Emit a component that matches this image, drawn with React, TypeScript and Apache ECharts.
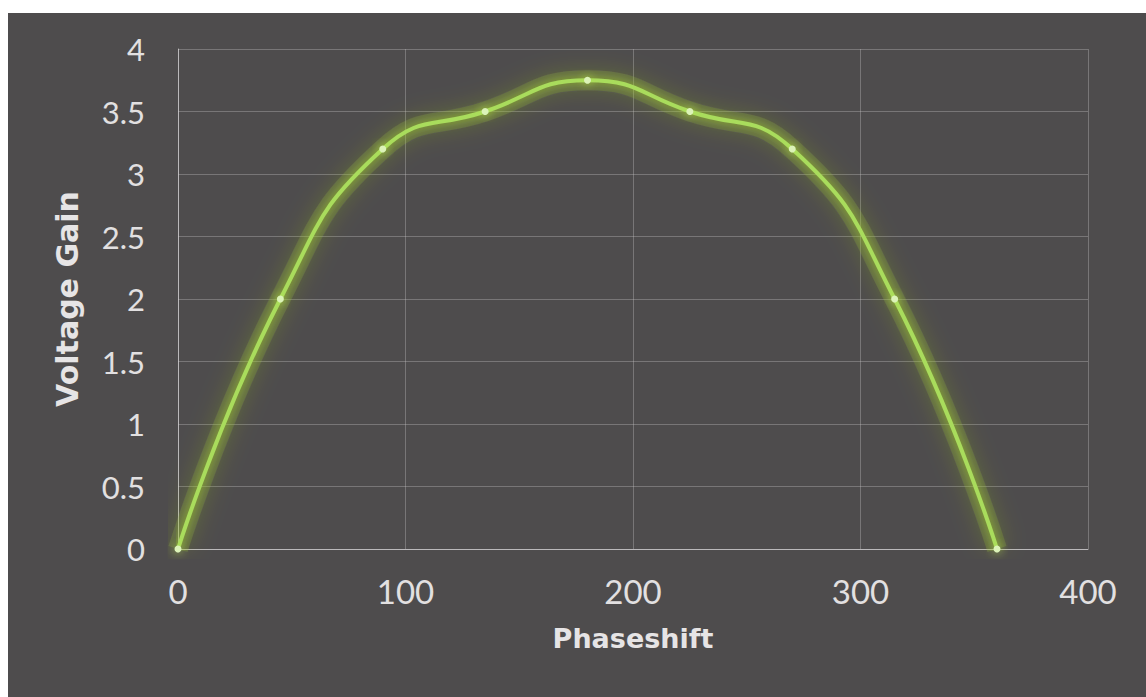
import React, { useEffect, useRef } from "react";
import * as echarts from "echarts";

const phaseShift = [0, 45, 90, 135, 180, 225, 270, 315, 360];
const voltageGain = [0, 2.0, 3.2, 3.5, 3.75, 3.5, 3.2, 2.0, 0];
const xAxisTitle = "Phaseshift";
const yAxisTitle = "Voltage Gain";

export default function App() {
  const ref = useRef<HTMLDivElement>(null);
  useEffect(() => {
    if (!ref.current) return;
    const chart = echarts.init(ref.current, null, { renderer: "svg" });
    const font = "Lato, 'Open Sans', sans-serif";
    const titleFont = "'DejaVu Sans', Lato, sans-serif";
    const points = phaseShift.map((x, i) => [x, voltageGain[i]]);
    chart.setOption({
      animation: false,
      backgroundColor: "#4e4c4d",
      grid: { left: 170, right: 58, top: 36, bottom: 148 },
      xAxis: {
        type: "value",
        min: 0,
        max: 400,
        interval: 100,
        name: xAxisTitle,
        nameLocation: "middle",
        nameGap: 76,
        nameTextStyle: { color: "#e6e4e5", fontSize: 27, fontWeight: "bold", fontFamily: titleFont },
        axisLine: { show: true, lineStyle: { color: "rgba(210,208,209,0.75)", width: 1 } },
        axisTick: { show: false },
        axisLabel: { color: "#e2e0e1", fontSize: 33, fontFamily: font, margin: 25 },
        splitLine: { show: true, lineStyle: { color: "rgba(200,198,199,0.35)", width: 1 } },
      },
      yAxis: {
        type: "value",
        min: 0,
        max: 4,
        interval: 0.5,
        name: yAxisTitle,
        nameLocation: "middle",
        nameGap: 96,
        nameRotate: 90,
        nameTextStyle: { color: "#e6e4e5", fontSize: 30, fontWeight: "bold", fontFamily: titleFont },
        axisLine: { show: true, lineStyle: { color: "rgba(210,208,209,0.75)", width: 1 } },
        axisTick: { show: false },
        axisLabel: { color: "#e2e0e1", fontSize: 31, fontFamily: font, margin: 33 },
        splitLine: { show: true, lineStyle: { color: "rgba(200,198,199,0.35)", width: 1 } },
      },
      series: [
        {
          type: "line",
          data: points,
          smooth: 0.5,
          symbol: "none",
          silent: true,
          z: 1,
          lineStyle: {
            color: "rgba(150,185,50,0.22)",
            width: 20,
            shadowBlur: 22,
            shadowColor: "rgba(160,200,40,1)",
          },
        },
        {
          type: "line",
          data: points,
          smooth: 0.5,
          symbol: "circle",
          symbolSize: 7,
          z: 2,
          itemStyle: {
            color: "#dcf3b8",
            shadowBlur: 10,
            shadowColor: "rgba(190,235,80,0.9)",
          },
          lineStyle: {
            color: "#a9dc5c",
            width: 4,
            shadowBlur: 8,
            shadowColor: "rgba(170,220,40,0.8)",
          },
        },
      ],
    });
    return () => chart.dispose();
  }, []);
  return (
    <div
      ref={ref}
      style={{ position: "absolute", left: 8, top: 13, width: 1138, height: 684 }}
    />
  );
}
